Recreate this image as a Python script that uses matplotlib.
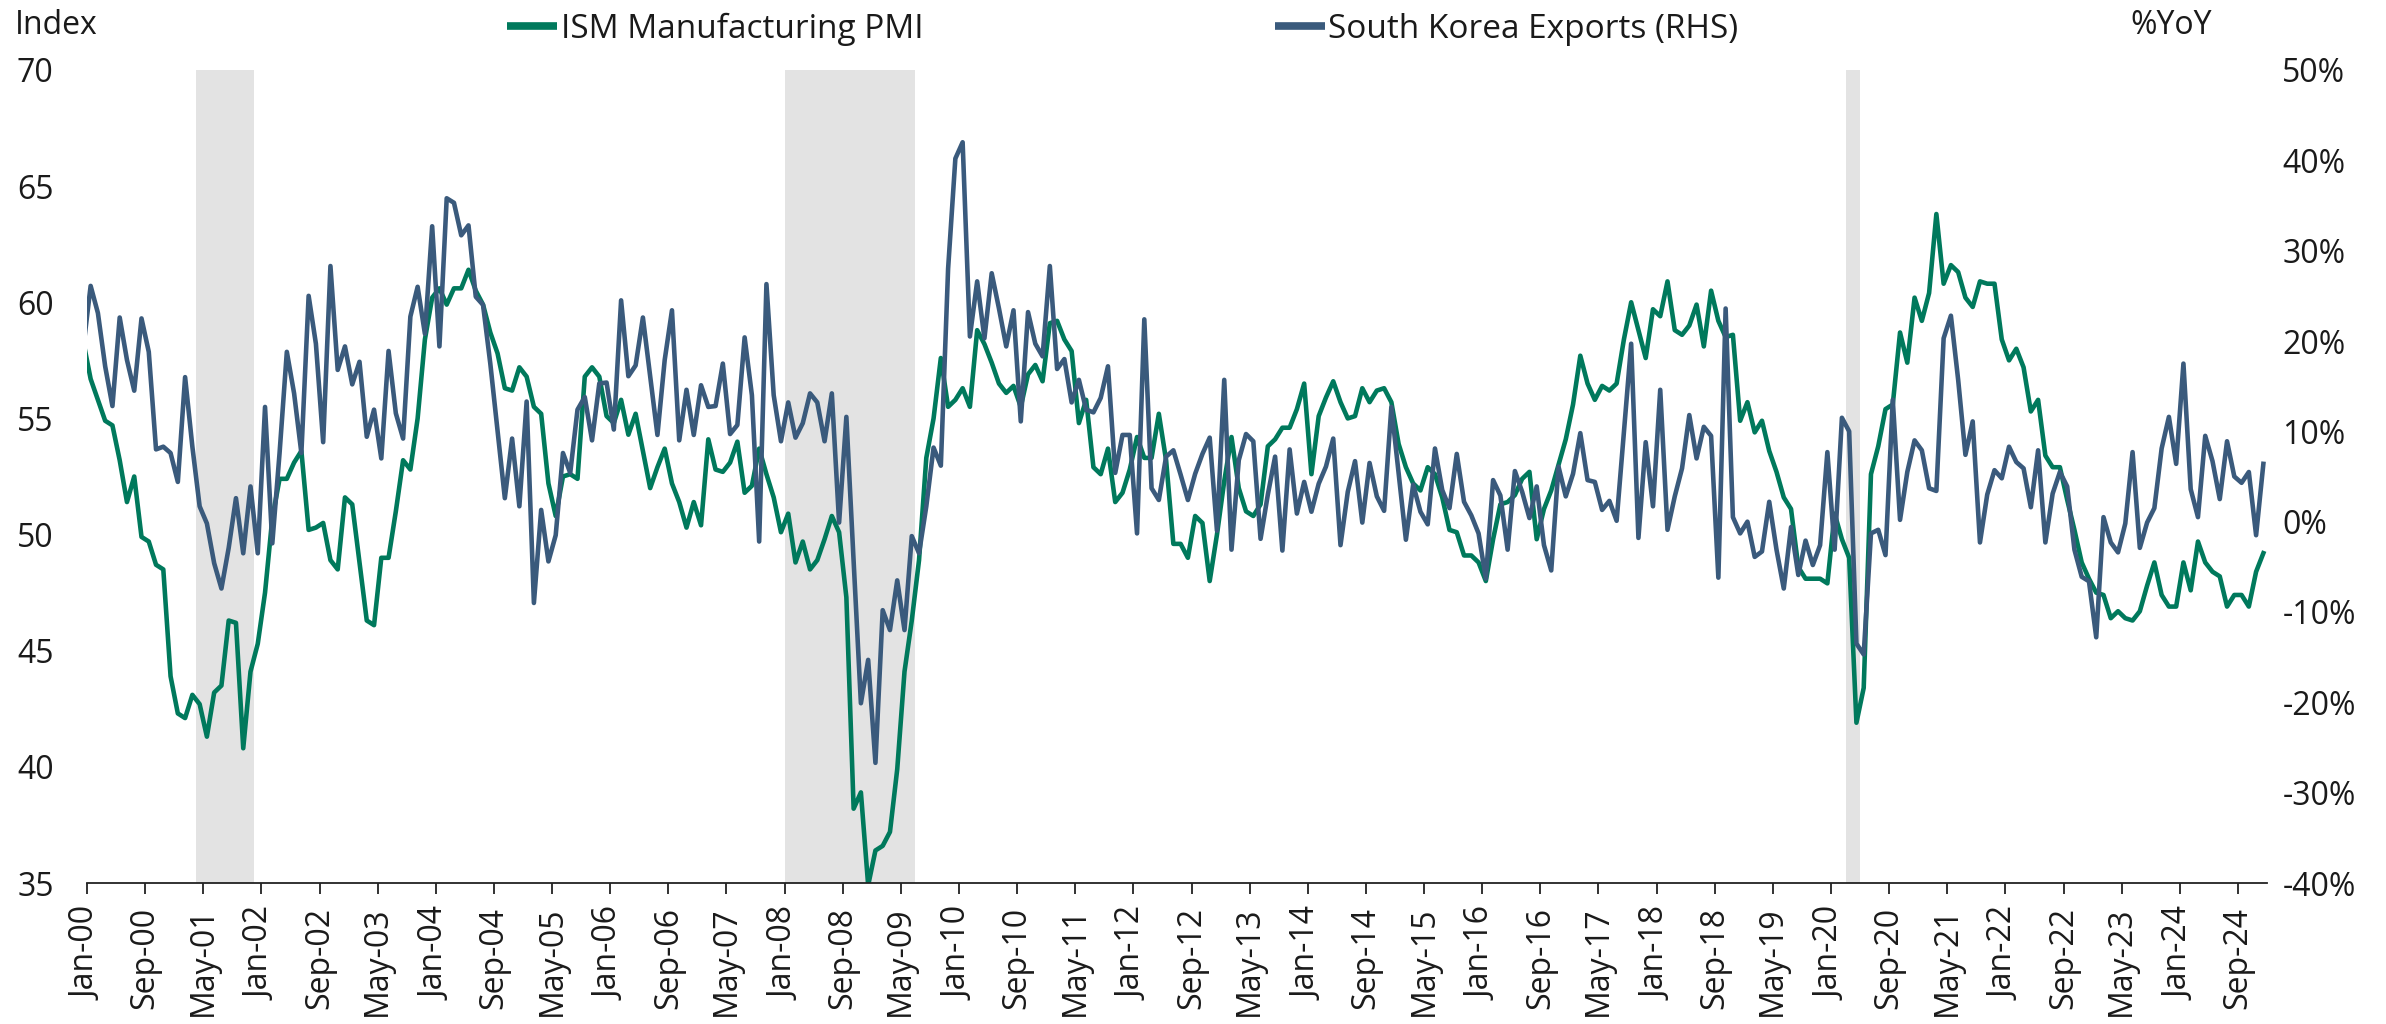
import matplotlib.pyplot as plt
import numpy as np
import pandas as pd
from matplotlib.lines import Line2D

plt.rcParams['font.family'] = ['Open Sans', 'DejaVu Sans']

# monthly, Dec-99 .. Dec-24 (the Dec-99 point is only there so the line runs in from the left edge)
months = pd.date_range('1999-12-01', '2024-12-01', freq='MS')

ism_pmi = [
    58.3,
    56.7, 55.8, 54.9, 54.7, 53.2, 51.4, 52.5, 49.9, 49.7, 48.7, 48.5, 43.9,  # 2000
    42.3, 42.1, 43.1, 42.7, 41.3, 43.2, 43.5, 46.3, 46.2, 40.8, 44.1, 45.3,  # 2001
    47.5, 50.7, 52.4, 52.4, 53.1, 53.6, 50.2, 50.3, 50.5, 48.9, 48.5, 51.6,  # 2002
    51.3, 48.8, 46.3, 46.1, 49.0, 49.0, 51.0, 53.2, 52.8, 55.0, 58.4, 60.2,  # 2003
    60.6, 59.9, 60.6, 60.6, 61.4, 60.5, 59.9, 58.7, 57.8, 56.3, 56.2, 57.2,  # 2004
    56.8, 55.5, 55.2, 52.2, 50.8, 52.5, 52.6, 52.4, 56.8, 57.2, 56.8, 55.1,  # 2005
    54.8, 55.8, 54.3, 55.2, 53.6, 52.0, 52.9, 53.7, 52.2, 51.4, 50.3, 51.4,  # 2006
    50.4, 54.1, 52.8, 52.7, 53.1, 54.0, 51.8, 52.1, 53.7, 52.6, 51.6, 50.1,  # 2007
    50.9, 48.8, 49.7, 48.5, 48.9, 49.8, 50.8, 50.1, 47.3, 38.2, 38.9, 34.9,  # 2008
    36.4, 36.6, 37.2, 39.9, 44.1, 46.3, 48.9, 53.3, 55.0, 57.6, 55.5, 55.8,  # 2009
    56.3, 55.5, 58.8, 58.2, 57.4, 56.5, 56.1, 56.4, 55.5, 56.9, 57.3, 56.6,  # 2010
    59.1, 59.2, 58.4, 57.9, 54.8, 55.8, 52.9, 52.6, 53.7, 51.4, 51.8, 52.8,  # 2011
    54.2, 53.3, 53.3, 55.2, 53.2, 49.6, 49.6, 49.0, 50.8, 50.5, 48.0, 50.0,  # 2012
    52.3, 54.2, 52.0, 51.0, 50.8, 51.3, 53.8, 54.1, 54.6, 54.6, 55.4, 56.5,  # 2013
    52.6, 55.1, 55.9, 56.6, 55.7, 55.0, 55.1, 56.3, 55.7, 56.2, 56.3, 55.7,  # 2014
    53.9, 52.9, 52.2, 51.9, 52.9, 52.6, 51.6, 50.2, 50.1, 49.1, 49.1, 48.8,  # 2015
    48.0, 49.8, 51.3, 51.4, 51.7, 52.4, 52.7, 49.8, 51.1, 51.9, 53.0, 54.1,  # 2016
    55.6, 57.7, 56.5, 55.8, 56.4, 56.2, 56.5, 58.4, 60.0, 58.8, 57.6, 59.7,  # 2017
    59.4, 60.9, 58.8, 58.6, 59.0, 59.9, 58.1, 60.5, 59.2, 58.5, 58.6, 54.9,  # 2018
    55.7, 54.4, 54.9, 53.6, 52.7, 51.6, 51.1, 48.6, 48.1, 48.1, 48.1, 47.9,  # 2019
    50.9, 49.8, 49.0, 41.9, 43.4, 52.6, 53.8, 55.4, 55.6, 58.7, 57.4, 60.2,  # 2020
    59.2, 60.4, 63.8, 60.8, 61.6, 61.3, 60.2, 59.8, 60.9, 60.8, 60.8, 58.4,  # 2021
    57.5, 58.0, 57.2, 55.3, 55.8, 53.4, 52.9, 52.9, 51.5, 50.2, 48.8, 48.1,  # 2022
    47.5, 47.4, 46.4, 46.7, 46.4, 46.3, 46.7, 47.8, 48.8, 47.4, 46.9, 46.9,  # 2023
    48.8, 47.6, 49.7, 48.8, 48.4, 48.2, 46.9, 47.4, 47.4, 46.9, 48.4, 49.2,  # 2024
]

korea_exports = [
    19.3,
    26.1, 23.1, 17.2, 12.8, 22.6, 17.9, 14.5, 22.5, 18.8, 8.0, 8.3, 7.6,  # 2000
    4.4, 16.0, 8.3, 1.7, -0.2, -4.6, -7.4, -2.9, 2.6, -3.5, 3.9, -3.5,  # 2001
    12.7, -2.4, 7.6, 18.8, 14.2, 7.6, 25.0, 19.7, 8.8, 28.3, 16.8, 19.4,  # 2002
    15.2, 17.7, 9.4, 12.4, 7.0, 18.9, 12.0, 9.2, 22.7, 26.0, 20.8, 32.7,  # 2003
    19.4, 35.8, 35.3, 31.7, 32.8, 24.9, 24.0, 17.5, 10.1, 2.6, 9.2, 1.7,  # 2004
    13.3, -9.0, 1.3, -4.4, -1.5, 7.6, 5.4, 12.4, 13.8, 9.0, 15.3, 15.4,  # 2005
    10.2, 24.5, 16.1, 17.3, 22.6, 16.1, 9.6, 17.9, 23.4, 9.0, 14.6, 9.6,  # 2006
    15.1, 12.7, 12.8, 17.5, 9.7, 10.7, 20.4, 14.0, -2.2, 26.3, 14.0, 8.9,  # 2007
    13.2, 9.3, 10.9, 14.2, 13.2, 8.9, 14.2, -0.1, 11.6, -4.4, -20.1, -15.3,  # 2008
    -26.7, -9.8, -12.0, -6.5, -12.0, -1.6, -3.5, 1.7, 8.2, 6.2, 28.0, 40.2,  # 2009
    42.0, 20.5, 26.6, 20.3, 27.5, 23.6, 19.4, 23.4, 11.1, 23.2, 19.7, 18.3,  # 2010
    28.3, 16.9, 18.0, 13.2, 15.7, 12.4, 12.1, 13.7, 17.2, 5.4, 9.6, 9.6,  # 2011
    -1.3, 22.4, 3.7, 2.4, 7.2, 7.9, 5.2, 2.4, 5.3, 7.5, 9.3, -1.0,  # 2012
    15.7, -3.1, 6.8, 9.7, 8.9, -1.9, 3.0, 7.2, -3.2, 8.0, 0.9, 4.4,  # 2013
    1.1, 4.2, 6.1, 9.2, -2.6, 3.3, 6.7, -0.1, 6.5, 2.8, 1.2, 12.7,  # 2014
    5.3, -2.0, 4.1, 1.1, -0.3, 8.1, 3.5, 1.5, 7.5, 2.2, 0.7, -1.3,  # 2015
    -6.3, 4.6, 2.9, -3.1, 5.6, 3.3, 0.4, 3.9, -2.6, -5.4, 6.1, 2.8,  # 2016
    5.3, 9.8, 4.6, 4.4, 1.3, 2.3, 0.1, 9.9, 19.7, -1.8, 8.8, 1.7,  # 2017
    14.6, -0.9, 2.8, 5.9, 11.8, 7.0, 10.5, 9.5, -6.2, 23.6, 0.5, -1.3,  # 2018
    0.0, -3.9, -3.3, 2.2, -3.1, -7.4, -0.6, -5.9, -2.1, -4.8, -2.6, 7.7,  # 2019
    -3.1, 11.5, 10.0, -13.5, -14.7, -1.3, -0.9, -3.7, 13.5, 0.2, 5.5, 9.0,  # 2020
    7.9, 3.7, 3.4, 20.3, 22.8, 15.7, 7.4, 11.1, -2.3, 3.0, 5.7, 4.8,  # 2021
    8.3, 6.6, 5.9, 1.6, 7.9, -2.3, 3.1, 5.5, 3.9, -3.1, -6.1, -6.6,  # 2022
    -12.8, 0.5, -2.3, -3.4, -0.2, 7.7, -2.9, -0.1, 1.5, 8.1, 11.6, 6.4,  # 2023
    17.5, 3.6, 0.5, 9.5, 6.7, 2.5, 8.9, 5.0, 4.3, 5.5, -1.5, 6.4,  # 2024
]

# US recessions (first and last month shaded)
recessions = [('2001-04', '2001-11'), ('2008-01', '2009-06'), ('2020-03', '2020-04')]

GREEN = '#00795C'
BLUE = '#3A5A7C'
TEXT = '#1a1a1a'
font = 23
lw = 3.3

fig = plt.figure(figsize=(23.86, 10.24), dpi=100)
ax = fig.add_axes([87 / 2386, 1 - 883 / 1024, (2267 - 87) / 2386, (883 - 70) / 1024])
ax2 = ax.twinx()

# category axis: month k sits in the middle of slot k, Jan-00 is slot 0
start = months[1]
pos = np.arange(len(months)) - 0.5


def slot(s):
    d = pd.Timestamp(s)
    return (d.year - start.year) * 12 + d.month - start.month


for a, b in recessions:
    ax.axvspan(slot(a), slot(b) + 1, color='#e3e3e3', lw=0, zorder=0)

ax.plot(pos, ism_pmi, color=GREEN, lw=lw, solid_joinstyle='round', zorder=2)
ax2.plot(pos, korea_exports, color=BLUE, lw=lw, solid_joinstyle='round', zorder=3)

ax.set_xlim(0, len(months) - 1)
ax.set_ylim(35, 70)
ax.set_yticks(range(35, 71, 5))
ax2.set_ylim(-40, 50)
ax2.set_yticks(range(-40, 51, 10))
ax2.set_yticklabels([f'{v}%' for v in range(-40, 51, 10)])

ticks = np.arange(0, len(months) - 1, 8)
ax.set_xticks(ticks)
ax.set_xticklabels([months[t + 1].strftime('%b-%y') for t in ticks], rotation=90)

for a in (ax, ax2):
    for s in ['left', 'right', 'top']:
        a.spines[s].set_visible(False)
ax2.spines['bottom'].set_visible(False)
ax.spines['bottom'].set_linewidth(1.3)
ax.spines['bottom'].set_color('#222222')

ax.tick_params(axis='x', length=8, width=1.3, color='#222222', pad=9, labelsize=font, labelcolor=TEXT)
ax.tick_params(axis='y', length=0, pad=24, labelsize=font, labelcolor=TEXT)
ax2.tick_params(axis='y', length=0, pad=11, labelsize=font, labelcolor=TEXT)

fig.text(15 / 2386, 1 - 26 / 1024, 'Index', ha='left', va='center', fontsize=font, color=TEXT)
fig.text(2130 / 2386, 1 - 26 / 1024, '%YoY', ha='left', va='center', fontsize=font, color=TEXT)

handles = [Line2D([], [], color=GREEN, lw=5.5, solid_capstyle='butt'),
           Line2D([], [], color=BLUE, lw=5.5, solid_capstyle='butt')]
fig.legend(handles, ['ISM Manufacturing PMI', 'South Korea Exports (RHS)'], loc='center',
           bbox_to_anchor=(1123 / 2386, 1 - 29 / 1024), ncol=2, frameon=False, fontsize=24,
           handlelength=1.5, handletextpad=0.1, columnspacing=10.55, labelcolor=TEXT)

plt.savefig('out.png', dpi=100)
plt.close()
